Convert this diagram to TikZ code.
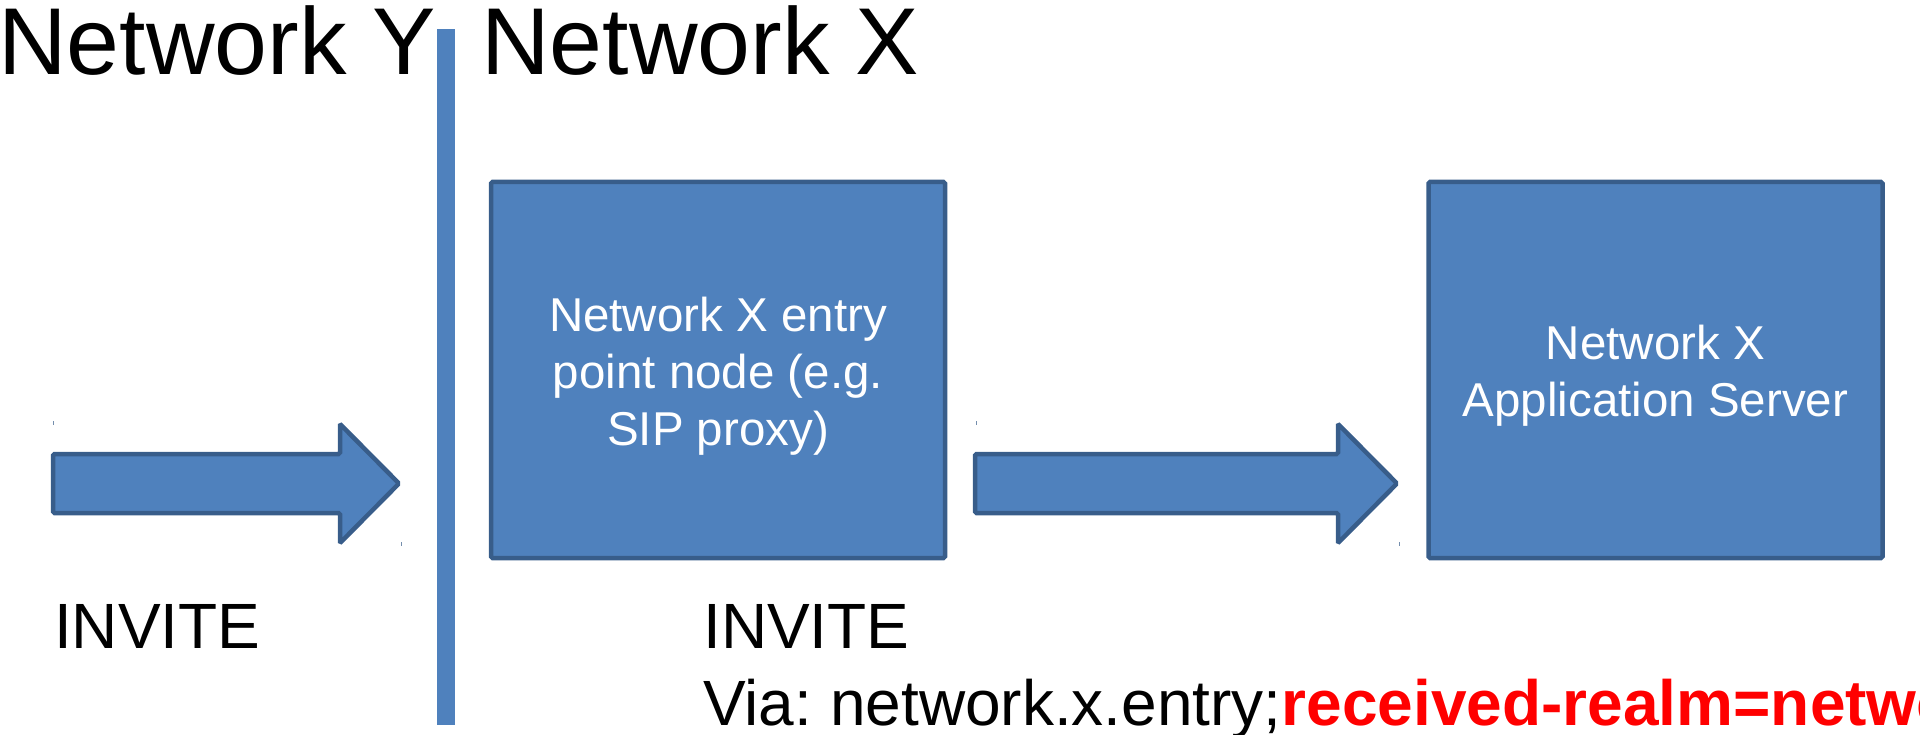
\documentclass[tikz,border=0pt]{standalone}
\usepackage{fontspec}
\setmainfont{Liberation Sans}
\frenchspacing
\definecolor{boxfill}{HTML}{4F81BD}
\definecolor{boxline}{HTML}{385D8A}
\definecolor{realm}{HTML}{FF0000}
\begin{document}
\begin{tikzpicture}[x=1pt,y=-1pt,
  blk/.style={fill=boxfill,draw=boxline,line width=4.5pt,rounded corners=1.5pt},
  bigbox/.style={blk,minimum width=454pt,minimum height=376pt,inner sep=0pt},
  boxtxt/.style={text=white,align=center,font=\fontsize{47.5}{57}\selectfont,inner sep=0pt},
  lbl/.style={inner sep=0pt,anchor=base west,font=\fontsize{64}{64}\selectfont},
  ttl/.style={inner sep=0pt,anchor=base west,font=\fontsize{95}{95}\selectfont},
  tickmark/.style={draw=boxline!70,line width=1pt}]
\useasboundingbox (0,0) rectangle (1920,735);
% divider bar
\node[fill=boxfill,minimum width=18pt,minimum height=696pt,inner sep=0pt] (bar) at (446,377) {};
% titles
\node[ttl] (ny) at (-2,75) {Network Y};
\node[ttl] (nx) at (481,75) {Network X};
% boxes
\node[bigbox] (box1) at (718,370) {};
\node[boxtxt,yshift=-6pt] (t1) at (box1.center) {Network X entry\\point node (e.g.\\SIP proxy)};
\node[bigbox] (box2) at (1655.5,370) {};
\node[boxtxt,yshift=-6pt] (t2) at (box2.center) {Network X\\Application Server};
% block arrows
\draw[blk] (53,454) -- (340,454) -- (340,424) -- (399,483.5) -- (340,543) -- (340,513) -- (53,513) -- cycle;
\draw[blk] (975,454) -- (1338,454) -- (1338,424) -- (1397,483.5) -- (1338,543) -- (1338,513) -- (975,513) -- cycle;
\draw[tickmark] (53,421) -- (53,425);
\draw[tickmark] (401,542) -- (401,546);
\draw[tickmark] (976,421) -- (976,425);
\draw[tickmark] (1399,542) -- (1399,546);
% messages
\node[lbl] (inv1) at (54,648) {INVITE};
\node[lbl] (inv2) at (703,648) {INVITE};
\node[lbl] (via) at (703,725) {Via: network.x.entry;\textcolor{realm}{\bfseries received-realm=network.x}};
\end{tikzpicture}
\end{document}
